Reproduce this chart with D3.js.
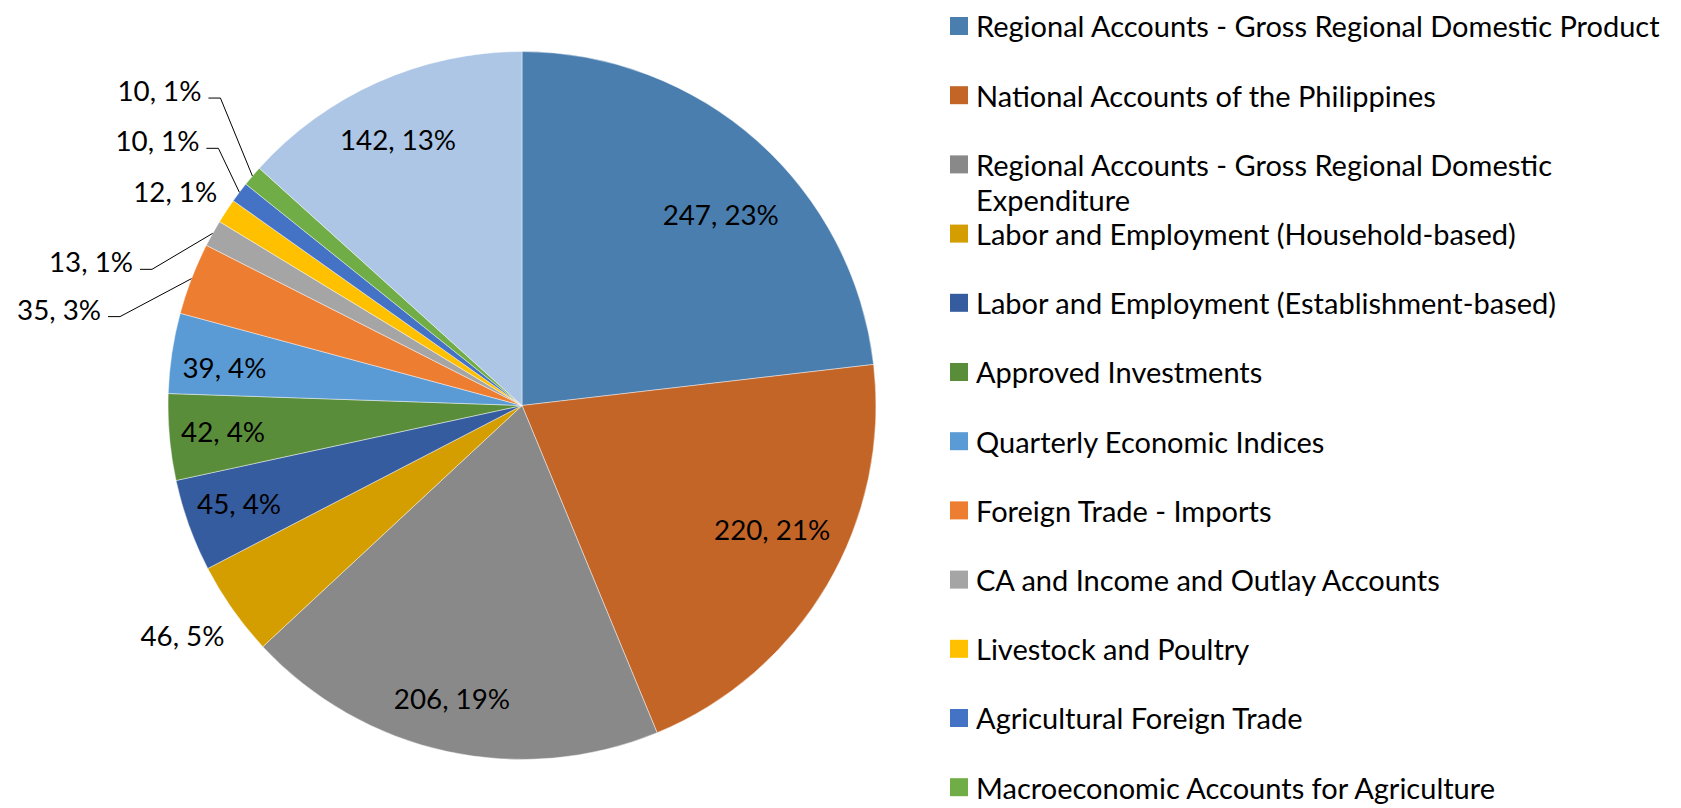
<!DOCTYPE html>
<html><head><meta charset="utf-8">
<script src="https://cdn.jsdelivr.net/npm/d3@7"></script>
<style>body{margin:0;background:#fff;overflow:hidden} svg{display:block}</style>
</head><body><svg id="chart" width="1681" height="808"></svg>
<script>
// ---- data ----
const categories = [
  "Regional Accounts - Gross Regional Domestic Product",
  "National Accounts of the Philippines",
  "Regional Accounts - Gross Regional Domestic Expenditure",
  "Labor and Employment (Household-based)",
  "Labor and Employment (Establishment-based)",
  "Approved Investments",
  "Quarterly Economic Indices",
  "Foreign Trade - Imports",
  "CA and Income and Outlay Accounts",
  "Livestock and Poultry",
  "Agricultural Foreign Trade",
  "Macroeconomic Accounts for Agriculture",
  "Others"
];
const values = [247, 220, 206, 46, 45, 42, 39, 35, 13, 12, 10, 10, 142];
const percentLabels = ["23%", "21%", "19%", "5%", "4%", "4%", "4%", "3%", "1%", "1%", "1%", "1%", "13%"];
const colors = ["#4a7eaf", "#c46528", "#898989", "#d49e00", "#355c9e", "#5a8d3a",
                "#5b9bd5", "#ed7d31", "#a5a5a5", "#ffc000", "#4472c4", "#70ad47", "#adc6e6"];

// ---- label layout (relative to each slice) ----
const labelLayout = [
  {mode: "inside", rf: 0.777, shift: 4.6},
  {mode: "inside", rf: 0.79, shift: -3.9},
  {mode: "inside", rf: 0.853, shift: 1.1},
  {mode: "outside"},
  {mode: "inside", rf: 0.846, shift: 0.7},
  {mode: "inside", rf: 0.848, shift: 0},
  {mode: "inside", rf: 0.847, shift: -1.4},
  {mode: "callout", dx: -71.5, dy: 38},
  {mode: "callout", dx: -60.7, dy: 36},
  {mode: "near", dx: -9, dy: -19},
  {mode: "callout", dx: -21, dy: -44},
  {mode: "callout", dx: -32, dy: -78},
  {mode: "inside", rf: 0.827, shift: -1.1}
];

const W = 1681, H = 808;
const cx = 522, cy = 405.5, R = 354;
const FONT = "Lato, 'Open Sans', 'Liberation Sans', sans-serif";

const svg = d3.select("#chart");

// measure helper to size fonts like the original narrow face
function measure(str, size) {
  const t = svg.append("text").attr("font-family", FONT).attr("font-size", size).text(str);
  const w = t.node().getComputedTextLength();
  t.remove();
  return w;
}
const labelSize = 100 * 84 / measure("35, 3%", 100);
const legendSize = 100 * 684 / measure(categories[0], 100);

const data = categories.map((c, i) => ({name: c, value: values[i], pct: percentLabels[i], color: colors[i], layout: labelLayout[i]}));

const pie = d3.pie().sort(null).value(d => d.value);
const arcs = pie(data);
const arc = d3.arc().innerRadius(0).outerRadius(R);

const g = svg.append("g").attr("transform", `translate(${cx},${cy})`);
g.selectAll("path.slice").data(arcs).join("path")
  .attr("class", "slice")
  .attr("d", arc)
  .attr("fill", d => d.data.color)
  .attr("stroke", "#ffffff")
  .attr("stroke-opacity", 0.55)
  .attr("stroke-width", 0.8);

function polar(angle, r) { return [r * Math.sin(angle), -r * Math.cos(angle)]; }

const lbl = g.append("g").attr("font-family", FONT).attr("font-size", labelSize).attr("fill", "#000");
const dyc = 0.36 * labelSize;
arcs.forEach(a => {
  const L = a.data.layout;
  const mid = (a.startAngle + a.endAngle) / 2;
  const text = `${a.data.value}, ${a.data.pct}`;
  if (L.mode === "inside") {
    const [x, y] = polar(mid + (L.shift || 0) * Math.PI / 180, R * L.rf);
    lbl.append("text").attr("x", x).attr("y", y + dyc).attr("text-anchor", "middle").text(text);
  } else if (L.mode === "outside") {
    const [x, y] = polar(mid, R + 10);
    lbl.append("text").attr("x", x).attr("y", y + 21 + dyc).attr("text-anchor", "end").text(text);
  } else if (L.mode === "near") {
    const [ex, ey] = polar(mid, R);
    lbl.append("text").attr("x", ex + L.dx).attr("y", ey + L.dy + dyc).attr("text-anchor", "end").text(text);
  } else if (L.mode === "callout") {
    const [ex, ey] = polar(mid, R);
    const bx = ex + L.dx, by = ey + L.dy;
    g.append("path")
      .attr("d", d3.line()([[bx - 12, by], [bx, by], [ex, ey]]))
      .attr("fill", "none").attr("stroke", "#000").attr("stroke-width", 1);
    lbl.append("text").attr("x", bx - 19).attr("y", by - 7 + dyc).attr("text-anchor", "end").text(text);
  }
});

// ---- legend ----
const legX = 950, legTextX = 976, legY0 = 27, legStep = 69.2, lineH = 35, sq = 18;
const maxW = W - legTextX - 4;
const leg = svg.append("g").attr("font-family", FONT).attr("font-size", legendSize).attr("fill", "#000");
const dyl = 0.36 * legendSize;
data.forEach((d, i) => {
  const y = legY0 + i * legStep;
  if (y + 10 > H) return; // clipped in the original
  leg.append("rect").attr("x", legX).attr("y", y - sq / 2 - 1).attr("width", sq).attr("height", sq).attr("fill", d.color);
  // wrap
  const words = d.name.split(" ");
  const lines = [];
  let cur = "";
  words.forEach(w => {
    const test = cur ? cur + " " + w : w;
    if (measure(test, legendSize) > maxW && cur) { lines.push(cur); cur = w; }
    else cur = test;
  });
  lines.push(cur);
  lines.forEach((ln, k) => {
    leg.append("text").attr("x", legTextX).attr("y", y + k * lineH + dyl).text(ln);
  });
});
</script>
</body></html>
